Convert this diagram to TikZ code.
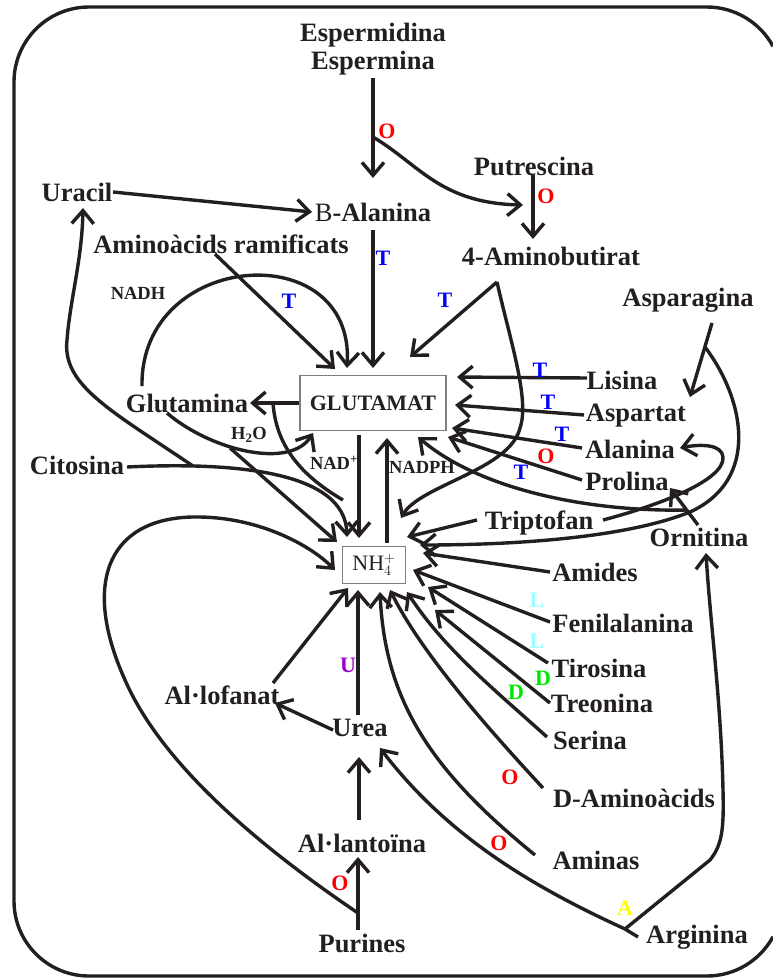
\documentclass[tikz,border=0pt]{standalone}
\usepackage{fontspec}
\setmainfont{Liberation Serif}
\usetikzlibrary{arrows.meta}
\definecolor{ink}{HTML}{231F20}
\definecolor{edge}{HTML}{7F7F7F}
\definecolor{cyanL}{HTML}{99FFFF}
\definecolor{greenD}{HTML}{00E600}
\definecolor{yellowA}{HTML}{FFFF00}
\definecolor{purpleU}{HTML}{9900CC}

\begin{document}
\begin{tikzpicture}[x=1pt,y=-1pt,
  met/.style={font=\fontsize{26.5}{28}\selectfont\bfseries,inner sep=1pt,text=ink},
  enz/.style={font=\fontsize{22}{24}\selectfont\bfseries,inner sep=0pt},
  cof/.style={font=\fontsize{18.5}{20}\selectfont\bfseries,inner sep=0pt,text=ink},
  box/.style={draw=edge,line width=1.5pt,fill=white,inner sep=0pt,text=ink},
  flow/.style={draw=ink,line width=3.4pt,-{Straight Barb[length=13pt,width=22pt]}},
  link/.style={draw=ink,line width=3.4pt},
  rim/.style={draw=ink,line width=3.4pt}]
\useasboundingbox (0,0) rectangle (773,978);
\draw[rim,rounded corners=75pt] (707,7) -- (14,7) -- (14,976) -- (707,976);
\draw[rim] (707,7) .. controls (734.5,7) and (759.9,22.1) .. (773,46.3);
\draw[rim] (707,976) .. controls (734.5,976) and (759.9,960.9) .. (773,936.7);

\node[met,align=center] (espm) at (373,49) {Espermidina\\Espermina};
\node[met] (putr) at (534,166) {Putrescina};
\node[met] (bala) at (373,212) {{\mdseries B}-Alanina};
\node[met] (urac) at (77,192) {Uracil};
\node[met] (gaba) at (551,256) {4-Aminobutirat};
\node[met] (bcaa) at (221,244) {Aminoàcids ramificats};
\node[met] (aspg) at (688,300) {Asparagina};
\node[met] (gln) at (187,403) {Glutamina};
\node[met] (cyt) at (77,465) {Citosina};
\node[met] (lys) at (622,380) {Lisina};
\node[met] (asp) at (636,416) {Aspartat};
\node[met] (ala) at (630,449) {Alanina};
\node[met] (pro) at (627,481) {Prolina};
\node[met] (trp) at (539,523) {Triptofan};
\node[met] (orn) at (699,537) {Ornitina};
\node[met] (amd) at (595,572) {Amides};
\node[met] (phe) at (623,623) {Fenilalanina};
\node[met] (tyr) at (599,668) {Tirosina};
\node[met] (thr) at (602,703) {Treonina};
\node[met] (ser) at (590,740) {Serina};
\node[met] (daa) at (634,798) {D-Aminoàcids};
\node[met] (amn) at (596,860) {Aminas};
\node[met] (arg) at (697,937) {Arginina};
\node[met] (alln) at (362,843) {Al·lantoïna};
\node[met] (pur) at (362,943) {Purines};
\node[met] (allf) at (222,695) {Al·lofanat};
\node[met] (urea) at (360,728) {Urea};
\node[box,minimum width=146pt,minimum height=55pt,font=\fontsize{22}{24}\selectfont\bfseries] (glut) at (373,403) {GLUTAMAT};
\node[box,minimum width=63pt,minimum height=37pt,font=\fontsize{22}{24}\selectfont] (nh) at (374,565) {NH$_{4}^{+}$};

\coordinate (espfork) at ([shift={(0,88)}]espm.center);
\coordinate (glnfork) at ([shift={(-100,0)}]glut.center);
\coordinate (glnend) at ([shift={(-31,-65)}]nh.center);
\coordinate (cytfork) at ([shift={(116,1)}]cyt.center);
\coordinate (purfork) at ([shift={(-4,-30)}]pur.center);
\coordinate (argfork) at ([shift={(-72,-8)}]arg.center);
\coordinate (ornfork) at ([shift={(-12,-27)}]orn.center);
\coordinate (asgfork) at ([shift={(17,47)}]aspg.center);
\coordinate (gabatop) at ([shift={(-54,26)}]gaba.center);

\draw[flow] ([shift={(0,29)}]espm.center) -- ([shift={(0,-34)}]bala.center);
\draw[flow] (espfork) .. controls (420,165) and (440,203) .. ([shift={(-11,39)}]putr.center);
\draw[flow] ([shift={(-1,9)}]putr.center) -- ([shift={(-18,-17)}]gaba.center);
\draw[flow] ([shift={(36,0)}]urac.center) -- ([shift={(-61,0)}]bala.center);
\draw[flow] ([shift={(0,18)}]bala.center) -- ([shift={(0,-35)}]glut.center);
\draw[flow] ([shift={(-6,10)}]bcaa.center) -- ([shift={(-38,-34)}]glut.center);
\draw[flow] ([shift={(-45,-17)}]gln.center) .. controls (140,250) and (355,235) .. ([shift={(-26,-35)}]glut.center);
\draw[flow] (glut.west) -- ([shift={(63,0)}]gln.center);
\draw[flow] ([shift={(-20,10)}]gln.center) .. controls (210,450) and (290,470) .. ([shift={(-60,30)}]glut.center);
\draw[link] (glnfork) .. controls (276,445) and (300,475) .. (glnend);
\draw[flow] ([shift={(50,2)}]cyt.center) .. controls (230,462) and (345,470) .. ([shift={(-27,-28)}]nh.center);
\draw[flow] (cytfork) .. controls (110,410) and (62,385) .. (67,340) .. controls (70,300) and (82,260) .. ([shift={(6,16)}]urac.center);
\draw[flow] ([shift={(43,45)}]gln.center) -- ([shift={(-37,-23)}]nh.center);
\draw[flow] (purfork) .. controls (250,840) and (160,760) .. (125,680) .. controls (80,580) and (110,515) .. (200,517) .. controls (260,518) and (310,545) .. ([shift={(-39,5)}]nh.center);
\draw[flow] ([shift={(-4,-13)}]pur.center) -- ([shift={(-4,14)}]alln.center);
\draw[flow] ([shift={(-3,-23)}]alln.center) -- ([shift={(-1,29)}]urea.center);
\draw[flow] ([shift={(-2,-13)}]urea.center) -- ([shift={(-16,25)}]nh.center);
\draw[flow] ([shift={(-27,2)}]urea.center) -- ([shift={(53,8)}]allf.center);
\draw[flow] ([shift={(51,-12)}]allf.center) -- ([shift={(-26,23)}]nh.center);
\draw[link] ([shift={(-59,0)}]arg.center) -- (argfork);
\draw[flow] (argfork) .. controls (540,890) and (450,840) .. ([shift={(20,20)}]urea.center);
\draw[flow] (argfork) -- (710,860) .. controls (722,845) and (724,830) .. (723,790) .. controls (721,700) and (710,620) .. ([shift={(7,16)}]orn.center);
\draw[flow] ([shift={(-1,-12)}]orn.center) -- ([shift={(43,7)}]pro.center);
\draw[flow] (ornfork) .. controls (590,512) and (480,490) .. ([shift={(45,34)}]glut.center);
\draw[flow] ([shift={(64,-3)}]trp.center) .. controls (660,505) and (725,480) .. (723,457) .. controls (722,444) and (700,444) .. ([shift={(50,-1)}]ala.center);
\draw[flow] ([shift={(-62,-3)}]trp.center) -- ([shift={(33,-28)}]nh.center);
\draw[flow] ([shift={(24,23)}]aspg.center) -- ([shift={(54,-19)}]asp.center);
\draw[flow] (asgfork) .. controls (745,400) and (760,480) .. (690,512) .. controls (620,540) and (500,545) .. ([shift={(46,-20)}]nh.center);
\draw[flow] ([shift={(-35,-2)}]lys.center) -- ([shift={(84,-26)}]glut.center);
\draw[flow] ([shift={(-52,-1)}]asp.center) -- ([shift={(82,2)}]glut.center);
\draw[flow] ([shift={(-48,-1)}]ala.center) -- ([shift={(79,25)}]glut.center);
\draw[flow] ([shift={(-45,-1)}]pro.center) -- ([shift={(75,34)}]glut.center);
\draw[flow] (gabatop) -- ([shift={(37,-46)}]glut.center);
\draw[flow] (gabatop) .. controls (510,340) and (530,400) .. (520,428) .. controls (510,470) and (420,485) .. ([shift={(27,-47)}]nh.center);
\draw[flow] ([shift={(-45,0)}]amd.center) -- ([shift={(49,-12)}]nh.center);
\draw[flow] ([shift={(-73,-1)}]phe.center) -- ([shift={(39,5)}]nh.center);
\draw[flow] ([shift={(-51,-5)}]tyr.center) -- ([shift={(54,22)}]nh.center);
\draw[flow] ([shift={(-52,0)}]thr.center) -- ([shift={(61,45)}]nh.center);
\draw[flow] ([shift={(-43,-3)}]ser.center) .. controls (495,690) and (445,650) .. ([shift={(33,27)}]nh.center);
\draw[flow] ([shift={(-91,-10)}]daa.center) .. controls (480,720) and (420,650) .. ([shift={(16,25)}]nh.center);
\draw[flow] ([shift={(-61,-5)}]amn.center) .. controls (430,770) and (385,700) .. ([shift={(6,27)}]nh.center);
\draw[flow] ([shift={(-14,32)}]glut.center) -- ([shift={(-15,-27)}]nh.center);
\draw[flow] ([shift={(13,-22)}]nh.center) -- ([shift={(14,35)}]glut.center);

\node[enz,text=red] (o1) at (387,131) {O};
\node[enz,text=red] (o2) at (546,196) {O};
\node[enz,text=blue] (t1) at (383,258) {T};
\node[enz,text=blue] (t2) at (289,301) {T};
\node[enz,text=blue] (t3) at (445,300) {T};
\node[enz,text=blue] (t4) at (540,370) {T};
\node[enz,text=blue] (t5) at (548,402) {T};
\node[enz,text=blue] (t6) at (562,434) {T};
\node[enz,text=red] (o3) at (546,456) {O};
\node[enz,text=blue] (t7) at (521,472) {T};
\node[enz,text=cyanL] (l1) at (537,600) {L};
\node[enz,text=cyanL] (l2) at (537,641) {L};
\node[enz,text=greenD] (d1) at (543,678) {D};
\node[enz,text=greenD] (d2) at (516,692) {D};
\node[enz,text=purpleU] (u1) at (348,665) {U};
\node[enz,text=red] (o4) at (510,777) {O};
\node[enz,text=red] (o5) at (499,843) {O};
\node[enz,text=yellowA] (a1) at (625,908) {A};
\node[enz,text=red] (o6) at (340,883) {O};
\node[cof] (nadh) at (138,293) {NADH};
\node[cof] (h2o) at (249,435) {H\textsubscript{2}O};
\node[cof] (nadp) at (334,463) {NAD\textsuperscript{+}};
\node[cof] (nadph) at (422,467) {NADPH};
\end{tikzpicture}
\end{document}
